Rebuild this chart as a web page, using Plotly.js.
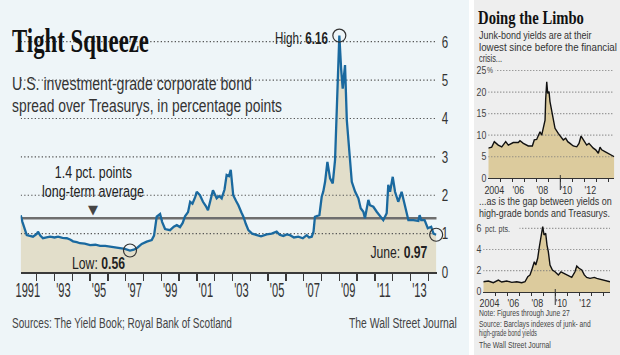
<!DOCTYPE html>
<html><head><meta charset="utf-8">
<script src="https://cdn.plot.ly/plotly-3.0.1.min.js"></script>
<style>html,body{margin:0;padding:0;background:#fff}#chart{width:620px;height:355px}</style>
</head><body><div id="chart"></div>
<script>
// ---- Main chart: U.S. investment-grade corporate bond spread (pct. points)
const igYears = [1991.1,1991.2,1991.44,1991.62,1991.79,1992.0,1992.07,1992.2,1992.35,1992.55,1992.75,1993.0,1993.2,1993.45,1993.69,1993.9,1994.04,1994.25,1994.43,1994.7,1995.0,1995.3,1995.56,1995.85,1996.12,1996.4,1996.68,1996.95,1997.24,1997.45,1997.62,1997.9,1998.18,1998.46,1998.59,1998.66,1998.74,1998.93,1999.05,1999.21,1999.49,1999.7,1999.87,2000.05,2000.2,2000.33,2000.5,2000.62,2000.75,2000.9,2000.99,2001.17,2001.34,2001.5,2001.62,2001.75,2001.9,2002.11,2002.25,2002.39,2002.55,2002.67,2002.8,2002.9,2003.04,2003.2,2003.33,2003.5,2003.61,2003.75,2003.89,2004.1,2004.36,2004.6,2004.92,2005.2,2005.48,2005.65,2005.85,2006.05,2006.23,2006.45,2006.7,2006.95,2007.17,2007.3,2007.45,2007.55,2007.63,2007.75,2007.88,2008.01,2008.1,2008.2,2008.33,2008.48,2008.63,2008.76,2008.85,2008.93,2009.0,2009.1,2009.19,2009.32,2009.42,2009.51,2009.6,2009.7,2009.89,2010.07,2010.2,2010.35,2010.44,2010.55,2010.63,2010.72,2010.91,2011.1,2011.29,2011.47,2011.66,2011.75,2011.85,2012.0,2012.13,2012.31,2012.5,2012.69,2012.88,2013.16,2013.44,2013.51,2013.6,2013.79,2013.97,2014.16,2014.29,2014.44];
const igSpread = [1.48,1.30,0.96,0.94,0.92,0.99,1.05,0.95,0.88,0.90,0.92,0.90,0.92,0.89,0.88,0.84,0.80,0.78,0.75,0.74,0.70,0.71,0.68,0.68,0.66,0.65,0.62,0.60,0.56,0.58,0.62,0.73,0.79,0.83,0.95,1.25,1.44,1.51,1.30,1.12,1.09,1.18,1.22,1.17,1.28,1.45,1.56,1.83,1.78,1.95,2.09,2.00,1.83,1.72,1.61,1.85,2.13,1.92,1.98,1.92,2.15,2.53,2.50,2.66,2.00,1.85,1.74,1.55,1.44,1.25,1.09,1.00,0.96,0.93,0.98,1.00,1.05,0.97,0.94,0.98,0.96,0.90,0.92,0.88,0.96,0.90,0.92,1.05,1.44,1.45,1.48,1.96,2.10,2.35,2.87,2.44,2.31,2.92,3.96,5.20,6.16,5.30,4.78,5.39,3.96,3.44,2.87,2.35,2.09,1.92,1.66,1.57,1.40,1.70,1.88,1.74,1.70,1.57,1.44,1.35,1.53,2.27,2.09,2.48,2.09,1.83,2.09,1.74,1.35,1.35,1.33,1.48,1.35,1.35,1.14,1.18,1.00,0.97];
const longTermAvg = 1.4;
const mainYTicks = [0,1,2,3,4,5,6];
const mainXLabelPos = [1991.5,1993.5,1995.5,1997.5,1999.5,2001.5,2003.5,2005.5,2007.5,2009.5,2011.5,2013.5];
const mainXLabels = ['1991',"'93","'95","'97","'99","'01","'03","'05","'07","'09","'11","'13"];
const mainYearTicks = [1992,1993,1994,1995,1996,1997,1998,1999,2000,2001,2002,2003,2004,2005,2006,2007,2008,2009,2010,2011,2012,2013,2014];

// ---- Small chart 1: junk-bond yields (%)
const junkYears = [2004.0,2004.28,2004.5,2004.83,2005.12,2005.45,2005.67,2006.08,2006.5,2006.64,2006.92,2007.33,2007.67,2007.83,2008.03,2008.17,2008.31,2008.45,2008.58,2008.73,2008.78,2008.87,2008.95,2009.06,2009.14,2009.28,2009.42,2009.56,2009.83,2010.06,2010.25,2010.45,2010.62,2010.81,2011.08,2011.37,2011.56,2011.73,2011.83,2012.0,2012.2,2012.39,2012.56,2012.75,2012.95,2013.17,2013.31,2013.45,2013.72,2014.0,2014.28,2014.5];
const junkYield = [7.0,7.2,8.5,7.7,7.3,8.5,7.7,8.3,8.3,8.7,8.1,7.5,7.5,8.9,9.0,10.0,10.8,10.0,11.4,13.5,18.2,22.4,19.7,20.1,17.8,15.8,13.1,11.6,10.4,9.6,8.9,9.3,8.5,8.1,7.5,7.3,8.1,9.8,9.3,8.5,7.7,8.1,7.5,7.0,6.6,5.8,7.2,6.6,6.2,5.8,5.4,5.0];
const junkYTicks = [0,5,10,15,20,25];

// ---- Small chart 2: high-grade bonds vs Treasurys (pct. pts.)
const gapYears = [2003.98,2004.4,2004.82,2005.24,2005.52,2005.94,2006.36,2006.78,2007.19,2007.47,2007.7,2007.89,2008.08,2008.25,2008.37,2008.53,2008.67,2008.81,2008.95,2009.06,2009.2,2009.31,2009.42,2009.56,2009.76,2009.98,2010.26,2010.48,2010.76,2011.04,2011.38,2011.65,2011.8,2011.99,2012.22,2012.43,2012.63,2012.91,2013.27,2013.47,2013.75,2014.17,2014.58];
const gapSpread = [0.96,1.03,0.87,1.12,0.93,1.03,0.90,0.96,0.87,0.96,1.43,1.60,2.23,2.85,2.54,3.17,4.26,5.20,6.15,5.37,5.53,4.42,3.80,2.54,2.07,1.90,1.60,1.90,1.75,1.60,1.37,1.90,2.44,2.23,2.07,1.60,1.37,1.28,1.37,1.28,1.19,1.06,0.96];
const gapYTicks = [0,2,4,6];

const smallXLabelPos = [2004.5,2006.5,2008.5,2010.5,2012.5];
const smallXLabels = ['2004',"'06","'08","'10","'12"];
const smallYearTicks = [2005,2006,2007,2008,2009,2010,2011,2012,2013,2014];

// ---- styling
const SANS = "Liberation Sans, Arial, sans-serif";
const SERIF = "Liberation Serif, DejaVu Serif, serif";
const W = 620, H = 355;
const px = v => v / W, py = v => 1 - v / H;

const mainXR = [1991.1, 2014.47];
const s1XR = [2004.0, 2014.5];
const s2XR = [2003.98, 2014.58];

const traces = [];
function gridTraces(ticks, xr, xa, ya, color, dash) {
  ticks.filter(t => t > 0).forEach(t => traces.push({
    x: xr, y: [t, t], xaxis: xa, yaxis: ya, mode: 'lines', hoverinfo: 'skip', showlegend: false,
    line: {color: color, width: 1.2, dash: dash}
  }));
}
// main
traces.push({x: igYears, y: igSpread, mode: 'lines', fill: 'tozeroy', fillcolor: '#e2deca',
  line: {width: 0}, hoverinfo: 'skip', showlegend: false, xaxis: 'x', yaxis: 'y'});
gridTraces(mainYTicks, mainXR, 'x', 'y', '#555', '1.3px,2.2px');
traces.push({x: mainXR, y: [longTermAvg, longTermAvg], mode: 'lines', line: {color: '#6e6e6e', width: 2.5},
  hoverinfo: 'skip', showlegend: false, xaxis: 'x', yaxis: 'y'});
traces.push({x: igYears, y: igSpread, mode: 'lines', line: {color: '#1a699f', width: 2.3},
  showlegend: false, xaxis: 'x', yaxis: 'y'});
const iMax = igSpread.indexOf(Math.max(...igSpread));
const iMin = igSpread.indexOf(Math.min(...igSpread));
const iLast = igSpread.length - 1;
traces.push({x: [igYears[iMax], igYears[iMin], igYears[iLast]], y: [igSpread[iMax], igSpread[iMin], igSpread[iLast]],
  mode: 'markers', marker: {symbol: 'circle-open', size: 13, color: '#333', line: {width: 1.2}},
  cliponaxis: false, showlegend: false, hoverinfo: 'skip', xaxis: 'x', yaxis: 'y'});
// small 1
traces.push({x: junkYears, y: junkYield, mode: 'lines', fill: 'tozeroy', fillcolor: '#dccb9d',
  line: {width: 0}, hoverinfo: 'skip', showlegend: false, xaxis: 'x2', yaxis: 'y2'});
gridTraces(junkYTicks, s1XR, 'x2', 'y2', '#777', '1px,2px');
traces.push({x: junkYears, y: junkYield, mode: 'lines', line: {color: '#111', width: 1.4},
  showlegend: false, xaxis: 'x2', yaxis: 'y2'});
// small 2
traces.push({x: gapYears, y: gapSpread, mode: 'lines', fill: 'tozeroy', fillcolor: '#dccb9d',
  line: {width: 0}, hoverinfo: 'skip', showlegend: false, xaxis: 'x3', yaxis: 'y3'});
gridTraces(gapYTicks, s2XR, 'x3', 'y3', '#777', '1px,2px');
traces.push({x: gapYears, y: gapSpread, mode: 'lines', line: {color: '#111', width: 1.4},
  showlegend: false, xaxis: 'x3', yaxis: 'y3'});

const tf = (s, c) => ({family: SANS, size: s, color: c || '#333'});
// each entry: [text, x(px), y(px), options, target width px (null = keep)]
const annSpec = [
  ['Tight Squeeze', 10, 41, {font: {family: SERIF, size: 33, color: '#111', weight: 700}}, 137],
  ['U.S. investment-grade corporate bond', 10, 83, {font: tf(18.5, '#333')}, 240],
  ['spread over Treasurys, in percentage points', 10, 105.5, {font: tf(18.5, '#333')}, 270],
  ['High: <b>6.16</b>', 330, 38.5, {xanchor: 'right', font: tf(16, '#222')}, 53],
  ['1.4 pct. points', 93, 171.5, {xanchor: 'center', font: tf(16.5, '#222')}, 77],
  ['long-term average', 93, 191, {xanchor: 'center', font: tf(16.5, '#222')}, 102],
  ['▼', 93, 209.5, {xanchor: 'center', font: {family: 'DejaVu Sans', size: 13, color: '#444'}}, null],
  ['Low: <b>0.56</b>', 70, 263, {font: tf(17, '#222')}, 53],
  ['June: <b>0.97</b>', 428.5, 252, {xanchor: 'right', font: tf(17, '#222')}, 57],
  ['Sources: The Yield Book; Royal Bank of Scotland', 10, 322.5, {font: tf(14.5, '#444')}, 220],
  ['The Wall Street Journal', 458.5, 322.5, {xanchor: 'right', font: tf(14.5, '#444')}, 108],
  ['Doing the Limbo', 476, 18, {font: {family: SERIF, size: 18, color: '#111', weight: 700}}, 106],
  ['Junk-bond yields are at their', 476.5, 36, {font: tf(10.4, '#333')}, 113],
  ['lowest since before the financial', 476.5, 47.5, {font: tf(10.4, '#333')}, 138],
  ['crisis...', 476.5, 58.8, {font: tf(10.4, '#333')}, 23],
  ['...as is the gap between yields on', 476.5, 201.5, {font: tf(10.4, '#333')}, 133],
  ['high-grade bonds and Treasurys.', 476.5, 213.3, {font: tf(10.4, '#333')}, 131],
  ['Note: Figures through June 27', 476.5, 313.5, {font: tf(8.2, '#444')}, 91],
  ['Source: Barclays indexes of junk- and', 476.5, 324.8, {font: tf(8.2, '#444')}, 112],
  ['high-grade bond yields', 476.5, 333.7, {font: tf(8.2, '#444')}, 58],
  ['The Wall Street Journal', 476.5, 345, {font: tf(8.2, '#444')}, 72]
];
const annotations = annSpec.map(a => Object.assign({text: a[0], x: px(a[1]), y: py(a[2]), xref: 'paper', yref: 'paper',
  showarrow: false, xanchor: 'left', yanchor: 'middle'}, a[3]));
const targetWidths = annSpec.map(a => a[4]);
// unit suffixes on the small charts' top tick
annotations.push({text: '%', x: px(486.2), xref: 'paper', y: 25, yref: 'y2', showarrow: false, xanchor: 'left',
  yanchor: 'middle', font: tf(9, '#444'), bgcolor: '#eeeeee', borderpad: 0});
targetWidths.push(6);
annotations.push({text: ' pct. pts.', x: px(482.3), xref: 'paper', y: 6, yref: 'y3', showarrow: false, xanchor: 'left',
  yanchor: 'middle', font: tf(9.5, '#444'), bgcolor: '#eeeeee', borderpad: 0});
targetWidths.push(27);

const shapes = [
  {type: 'rect', xref: 'paper', yref: 'paper', x0: 0, x1: px(469), y0: 0, y1: 1, fillcolor: '#eef5f8', line: {width: 0}, layer: 'below'},
  {type: 'rect', xref: 'paper', yref: 'paper', x0: px(474), x1: 1, y0: 0, y1: 1, fillcolor: '#eeeeee', line: {width: 0}, layer: 'below'},
  {type: 'line', xref: 'x2', yref: 'paper', x0: 2010, x1: 2010, y0: py(190), y1: py(175), line: {color: '#333', width: 1}},
  {type: 'line', xref: 'x3', yref: 'paper', x0: 2010, x1: 2010, y0: py(305), y1: py(289), line: {color: '#333', width: 1}}
];

function smallX(domain, range) {
  return {domain: domain, range: range, showgrid: false, zeroline: false, showline: true, linecolor: '#333', linewidth: 1,
    tickmode: 'array', tickvals: smallXLabelPos, ticktext: smallXLabels, ticks: '', tickfont: tf(10.5, '#333'),
    ticklabelstandoff: 2, tickangle: 0,
    minor: {tickmode: 'array', tickvals: smallYearTicks, ticks: 'outside', ticklen: 3, tickcolor: '#333', tickwidth: 1, showgrid: false},
    fixedrange: true};
}
function smallY(domain, range, ticks, anchor) {
  return {domain: domain, range: range, anchor: anchor, showgrid: false, zeroline: false, showline: false,
    tickmode: 'array', tickvals: ticks, ticktext: ticks.map(String), ticks: '', tickfont: tf(10, '#444'),
    ticklabelstandoff: 1, fixedrange: true};
}

const layout = {
  width: W, height: H, margin: {l: 0, r: 0, t: 0, b: 0}, paper_bgcolor: '#ffffff', plot_bgcolor: 'rgba(0,0,0,0)',
  showlegend: false, hovermode: false,
  xaxis: {domain: [px(20.7), px(436.7)], range: mainXR, anchor: 'y', showgrid: false, zeroline: false,
    showline: true, linecolor: '#3a3a3a', linewidth: 2, tickmode: 'array', tickvals: mainXLabelPos, ticktext: mainXLabels,
    ticks: '', tickfont: tf(19.5, '#333'), ticklabelstandoff: 0, tickangle: 0,
    minor: {tickmode: 'array', tickvals: mainYearTicks, ticks: 'outside', ticklen: 7, tickcolor: '#3a3a3a', tickwidth: 1.3, showgrid: false},
    fixedrange: true},
  yaxis: {domain: [1 - 272 / H, 1 - 26.37 / H], range: [0, 6.4], anchor: 'x', side: 'right', showgrid: false, zeroline: false,
    showline: false, tickmode: 'array', tickvals: mainYTicks, ticktext: mainYTicks.map(String), ticks: '',
    tickfont: tf(16.5, '#333'), ticklabelstandoff: 4, fixedrange: true},
  xaxis2: Object.assign(smallX([px(488.3), px(614.3)], s1XR), {anchor: 'y2'}),
  yaxis2: smallY([1 - 178.3 / H, 1 - 66.19 / H], [0, 26], junkYTicks, 'x2'),
  xaxis3: Object.assign(smallX([px(483.3), px(610)], s2XR), {anchor: 'y3'}),
  yaxis3: smallY([1 - 291.9 / H, 1 - 224.06 / H], [0, 6.4], gapYTicks, 'x3'),
  annotations: annotations,
  shapes: shapes
};

// Horizontally condense a text element about its anchor edge (the source uses a narrow typeface)
function condense(el, s, anchor) {
  if (!el || !isFinite(s) || s <= 0) return;
  const bb = el.getBBox();
  const o = anchor === 'left' ? bb.x : anchor === 'right' ? bb.x + bb.width : bb.x + bb.width / 2;
  const prev = el.getAttribute('transform') || '';
  el.setAttribute('transform', prev + ' translate(' + o + ',0) scale(' + s + ',1) translate(' + (-o) + ',0)');
}
const anchorOf = el => ({start: 'left', end: 'right'})[el.getAttribute('text-anchor')] || 'center';

Plotly.newPlot('chart', traces, layout, {displayModeBar: false, staticPlot: true}).then(gd => {
  gd.querySelectorAll('g.annotation').forEach(g => {
    const i = +g.getAttribute('data-index');
    const tw = targetWidths[i];
    const t = g.querySelector('text.annotation-text');
    if (!tw || !t) return;
    const w = t.getBBox().width;
    condense(t, tw / w, annotations[i].xanchor || 'center');
  });
  const tickScale = {x: 0.57, y: 0.7, x2: 0.85, y2: 0.88, x3: 0.85, y3: 0.88};
  Object.keys(tickScale).forEach(ax => {
    gd.querySelectorAll('g.' + ax + 'tick text').forEach(t => condense(t, tickScale[ax], anchorOf(t)));
  });
});
</script></body></html>
